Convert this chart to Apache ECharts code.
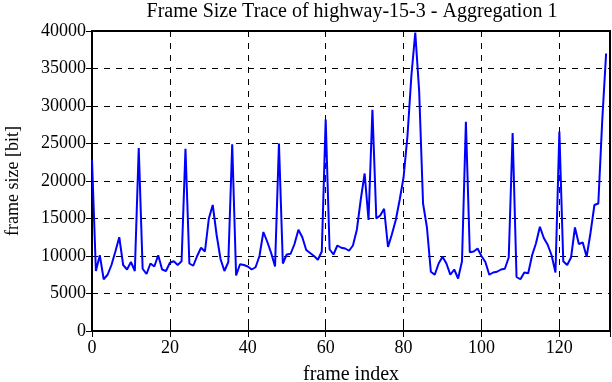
<!DOCTYPE html>
<html>
<head>
<meta charset="utf-8">
<script src="https://cdn.jsdelivr.net/npm/echarts@6/dist/echarts.min.js"></script>
<style>html,body{margin:0;padding:0;background:#fff;}#c{width:612px;height:382px;}</style>
</head>
<body>
<div id="c"></div>
<script>
const titleText = 'Frame Size Trace of highway-15-3 - Aggregation 1';
const xName = 'frame index';
const yName = 'frame size [bit]';
const xTicks = [0, 20, 40, 60, 80, 100, 120];
const yTicks = [0, 5000, 10000, 15000, 20000, 25000, 30000, 35000, 40000];
const frameSizes = [
  22800, 8000, 10100, 6900, 7500, 8800, 10600, 12500, 8800, 8200,
  9200, 8000, 24400, 8300, 7600, 9000, 8600, 10100, 8200, 8000,
  9100, 9300, 8800, 9300, 24300, 9000, 8700, 10000, 11100, 10600,
  15000, 16800, 12800, 9600, 8000, 9200, 24900, 7400, 8900, 8800,
  8600, 8200, 8500, 10000, 13200, 11900, 10400, 8600, 25000, 9000,
  10200, 10300, 11600, 13500, 12500, 10800, 10400, 10000, 9500, 10600,
  28200, 10900, 10200, 11400, 11100, 11000, 10700, 11400, 13500, 17500,
  21000, 14800, 29500, 15000, 15400, 16300, 11200, 12900, 14800, 17500,
  20500, 26000, 34000, 39800, 32000, 17000, 13800, 7900, 7500, 9000,
  9900, 9000, 7500, 8200, 7000, 9300, 27900, 10500, 10600, 11000,
  10000, 9200, 7500, 7800, 7900, 8200, 8300, 9800, 26400, 7200,
  6900, 7800, 7700, 10100, 11700, 13900, 12400, 11500, 10100, 7800,
  26600, 9300, 8800, 9800, 13800, 11600, 11800, 9900, 13100, 16800,
  17000, 28000, 37000
];
const frameIndex = frameSizes.map((_, i) => i);

const font = 'Liberation Serif';
const chart = echarts.init(document.getElementById('c'), null, {renderer: 'canvas'});
const tickStyle = {show: true, inside: true, length: 6, lineStyle: {color: '#000', width: 1}};
const gridLine = {show: true, lineStyle: {color: '#000', type: [6, 6], width: 1}};
chart.setOption({
  animation: false,
  backgroundColor: '#fff',
  graphic: [{
    type: 'text', x: 352, y: 2,
    style: {text: titleText, font: '20px "Liberation Serif"', fill: '#000', textAlign: 'center'}
  }],
  grid: {left: 92, right: 2, top: 31, bottom: 51, containLabel: false, outerBoundsMode: 'none',
    show: true, borderColor: '#000', borderWidth: 2, backgroundColor: 'transparent'},
  xAxis: [{
    type: 'value', min: 0, max: 133, interval: 20,
    name: xName, nameLocation: 'middle', nameGap: 34,
    nameTextStyle: {fontFamily: font, fontSize: 20, color: '#000'},
    axisLine: {show: false},
    axisTick: tickStyle,
    axisLabel: {fontFamily: font, fontSize: 18, color: '#000', margin: 8, showMaxLabel: false,
      formatter: v => xTicks.includes(v) ? String(v) : ''},
    splitLine: gridLine
  }, {
    type: 'value', min: 0, max: 133, interval: 20, position: 'top',
    axisLine: {show: false}, axisTick: tickStyle, axisLabel: {show: false}, splitLine: {show: false}
  }],
  yAxis: [{
    type: 'value', min: 0, max: 40000, interval: 5000,
    name: yName, nameLocation: 'middle', nameGap: 70,
    nameTextStyle: {fontFamily: font, fontSize: 18, color: '#000'},
    axisLine: {show: false},
    axisTick: tickStyle,
    axisLabel: {fontFamily: font, fontSize: 18, color: '#000', margin: 6,
      formatter: v => yTicks.includes(v) ? String(v) : ''},
    splitLine: gridLine
  }, {
    type: 'value', min: 0, max: 40000, interval: 5000, position: 'right',
    axisLine: {show: false}, axisTick: tickStyle, axisLabel: {show: false}, splitLine: {show: false}
  }],
  series: [{
    type: 'line',
    data: frameIndex.map((x, i) => [x, frameSizes[i]]),
    showSymbol: false,
    lineStyle: {color: '#0000ff', width: 2},
    itemStyle: {color: '#0000ff'},
    z: 3
  }]
});
</script>
</body>
</html>
